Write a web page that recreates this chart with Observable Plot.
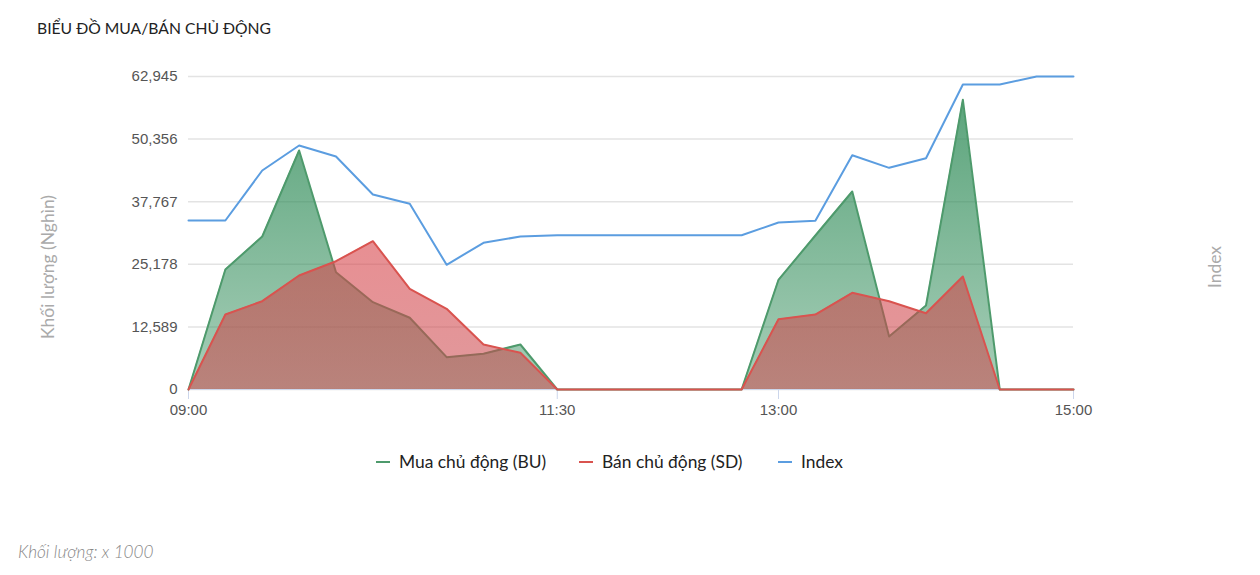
<!DOCTYPE html>
<html>
<head>
<meta charset="utf-8">
<script src="https://cdn.jsdelivr.net/npm/d3@7"></script>
<script src="https://cdn.jsdelivr.net/npm/@observablehq/plot@0.6"></script>
<style>
  body { margin: 0; background: #fff; width: 1260px; height: 575px; position: relative; overflow: hidden; font-family: Lato, "Noto Sans", sans-serif; }
  #title { position: absolute; left: 37px; top: 19px; font-size: 15.7px; color: #222; white-space: nowrap; }
  #chart { position: absolute; left: 0; top: 0; }
  .item { position: absolute; top: 451px; display: flex; align-items: center; font-size: 17.4px; color: #222; white-space: nowrap; }
  .sw { width: 14px; height: 2px; margin-right: 9px; }
  #caption { position: absolute; left: 18px; top: 541px; font-style: italic; font-weight: 300; font-size: 17.2px; color: #888; white-space: nowrap; }
  .side { position: absolute; width: 300px; height: 24px; line-height: 24px; text-align: center; font-size: 17.5px; color: #aaa; transform: translate(-50%, -50%) rotate(-90deg); white-space: nowrap; }
</style>
</head>
<body>
<div id="title">BIỂU ĐỒ MUA/BÁN CHỦ ĐỘNG</div>
<div id="chart"></div>
<div class="side" id="leftLabel" style="left:48px; top:267px"></div>
<div class="side" id="rightLabel" style="left:1215px; top:267px"></div>
<div class="item" style="left:376px"><span class="sw" style="background:#4e9a6c"></span>Mua chủ động (BU)</div>
<div class="item" style="left:579px"><span class="sw" style="background:#d9534f"></span>Bán chủ động (SD)</div>
<div class="item" style="left:778px"><span class="sw" style="background:#5b9de0"></span>Index</div>
<div id="caption">Khối lượng: x 1000</div>
<script>
// ---- data ----
const times = ["09:00","09:15","09:30","09:45","10:00","10:15","10:30","10:45","11:00","11:15","11:30","11:45","12:00","12:15","12:30","12:45","13:00","13:15","13:30","13:45","14:00","14:15","14:30","14:45","15:00"];
const buyVolume = [0,24130,30770,48060,23590,17560,14420,6500,7180,9050,0,0,0,0,0,0,22060,30970,39820,10660,16890,58260,0,0,0];
const sellVolume = [0,15080,17760,22930,25800,29830,20250,16230,9050,7380,0,0,0,0,0,0,14140,15080,19440,17760,15340,22720,0,0,0];
// Index line has no tick values; expressed on the left-axis scale
const indexLine = [33990,33990,44040,49070,46860,39210,37340,25080,29500,30770,31030,31030,31030,31030,31030,31030,33580,33930,47120,44580,46510,61340,61340,62945,62945];
const yTicks = [0,12589,25178,37767,50356,62945];
const xTickLabels = ["09:00","11:30","13:00","15:00"];
const leftLabel = "Khối lượng (Nghìn)";
const rightLabel = "Index";

document.getElementById("leftLabel").textContent = leftLabel;
document.getElementById("rightLabel").textContent = rightLabel;

const parse = d3.utcParse("%H:%M");
const rows = times.map((t, i) => ({t: parse(t), bu: buyVolume[i], sd: sellVolume[i], idx: indexLine[i]}));

function defs() {
  const d = d3.create("svg:defs");
  const g1 = d.append("linearGradient").attr("id", "gBU").attr("x1", 0).attr("y1", 0).attr("x2", 0).attr("y2", 1);
  g1.append("stop").attr("offset", "0%").attr("stop-color", "#2e8b57").attr("stop-opacity", 0.78);
  g1.append("stop").attr("offset", "100%").attr("stop-color", "#2e8b57").attr("stop-opacity", 0.42);
  const g2 = d.append("linearGradient").attr("id", "gSD").attr("x1", 0).attr("y1", 0).attr("x2", 0).attr("y2", 1);
  g2.append("stop").attr("offset", "0%").attr("stop-color", "#d8444a").attr("stop-opacity", 0.6);
  g2.append("stop").attr("offset", "100%").attr("stop-color", "#c8454a").attr("stop-opacity", 0.55);
  return d.node();
}

const chart = Plot.plot({
  width: 1260,
  height: 430,
  marginLeft: 188,
  marginRight: 187,
  marginTop: 76,
  marginBottom: 41,
  style: {fontFamily: "'Liberation Sans', Arial, sans-serif", fontSize: "15px", color: "#555", background: "transparent", overflow: "visible"},
  x: {type: "utc", domain: [parse("09:00"), parse("15:00")]},
  y: {domain: [0, 62945]},
  marks: [
    defs,
    Plot.gridY(yTicks, {stroke: "#e3e3e3", strokeOpacity: 1, strokeWidth: 1.5}),
    Plot.axisY({ticks: yTicks, tickFormat: d3.format(","), tickSize: 0, tickPadding: 11, label: null, fontSize: 15}),
    Plot.axisX({ticks: xTickLabels.map(parse), tickFormat: d3.utcFormat("%H:%M"), tickSize: 10, tickPadding: 5, stroke: "#ccd6eb", label: null, fontSize: 15}),
    Plot.ruleY([0], {stroke: "#ccd6eb"}),
    Plot.areaY(rows, {x: "t", y: "bu", fill: "url(#gBU)"}),
    Plot.lineY(rows, {x: "t", y: "bu", stroke: "#4e9a6c", strokeWidth: 2}),
    Plot.areaY(rows, {x: "t", y: "sd", fill: "url(#gSD)"}),
    Plot.lineY(rows, {x: "t", y: "sd", stroke: "#d9534f", strokeWidth: 2}),
    Plot.lineY(rows, {x: "t", y: "idx", stroke: "#5b9de0", strokeWidth: 2})
  ]
});
document.getElementById("chart").appendChild(chart);
</script>
</body>
</html>
